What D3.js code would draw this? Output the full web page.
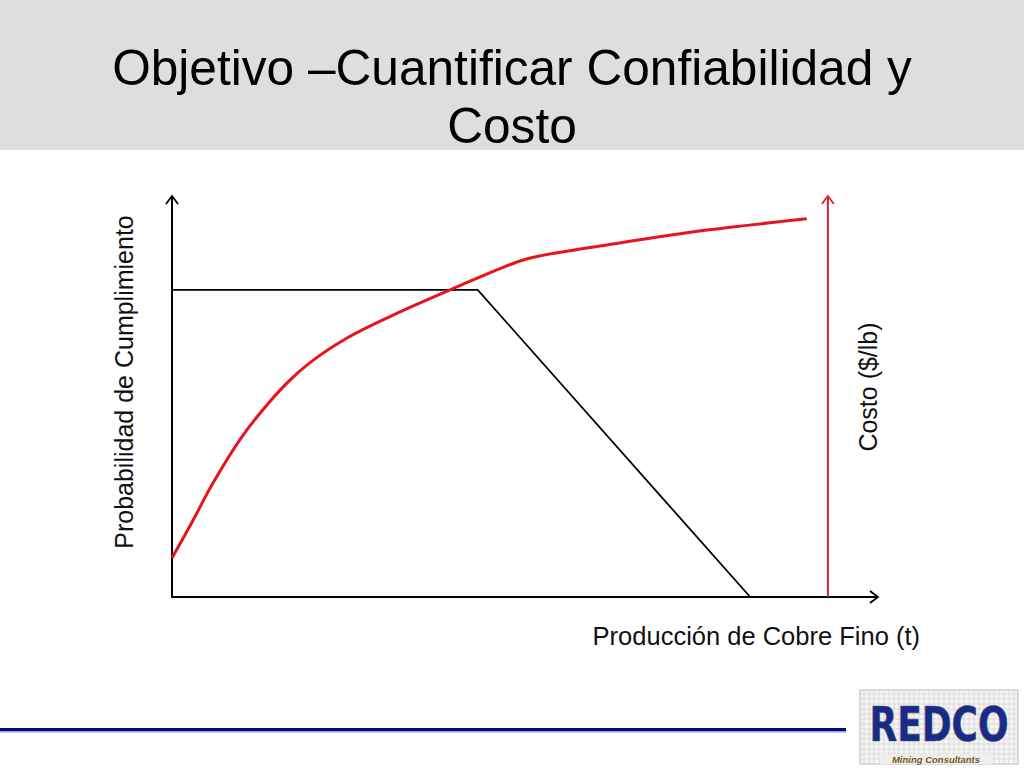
<!DOCTYPE html>
<html><head><meta charset="utf-8">
<script src="https://cdn.jsdelivr.net/npm/d3@7"></script>
<style>html,body{margin:0;padding:0;background:#fff;}svg{display:block;}</style>
</head><body>
<svg id="c" width="1024" height="768"></svg>
<script>
// Data (arbitrary units 0..100)
const titleLines = ["Objetivo \u2013Cuantificar Confiabilidad y", "Costo"];
const xLabel = "Producci\u00f3n de Cobre Fino (t)";
const yLabel = "Probabilidad de Cumplimiento";
const y2Label = "Costo ($/lb)";
const probX = [0, 43.3, 81.9];
const probY = [76.6, 76.6, 0];
const costX = [0, 3.0, 5.8, 9.6, 12.5, 16.3, 19.5, 24.8, 31.3, 39.4, 49.3, 52.5, 61.6, 75.8, 89.9];
const costY = [9.7, 19.2, 28.4, 39.2, 45.9, 53.4, 58.4, 64.6, 70.3, 76.6, 83.8, 85.2, 87.8, 91.5, 94.3];
const costAxisX = 92.9;

const svg = d3.select("#c");
const FONT = "'Liberation Sans', Arial, sans-serif";

// title band
svg.append("rect").attr("x",0).attr("y",0).attr("width",1024).attr("height",150).attr("fill","#dedede");
const t1 = svg.append("text").attr("x",512).attr("y",85).attr("text-anchor","middle")
  .attr("font-family",FONT).attr("font-size",48).attr("fill","#000").text(titleLines[0]);
let w = t1.node().getComputedTextLength();
const fs = 48*800/w;
t1.attr("font-size",fs);
svg.append("text").attr("x",512).attr("y",143).attr("text-anchor","middle")
  .attr("font-family",FONT).attr("font-size",fs).attr("fill","#000").text(titleLines[1]);

// scales
const x = d3.scaleLinear().domain([0,100]).range([172,878]);
const y = d3.scaleLinear().domain([0,100]).range([597,196]);

// arrow markers
const defs = svg.append("defs");
function marker(id,color){
  defs.append("marker").attr("id",id).attr("viewBox","-10 -8 12 16").attr("refX",0).attr("refY",0)
    .attr("markerWidth",12).attr("markerHeight",16).attr("markerUnits","userSpaceOnUse").attr("orient","auto")
    .append("path").attr("d","M-8,-6 L0,0 L-8,6").attr("fill","none").attr("stroke",color).attr("stroke-width",1.8);
}
marker("arrB","#000"); marker("arrR","#e0202a");

// axes
svg.append("line").attr("x1",x(0)).attr("y1",y(0)).attr("x2",x(0)).attr("y2",y(100))
  .attr("stroke","#000").attr("stroke-width",2).attr("marker-end","url(#arrB)");
svg.append("line").attr("x1",x(0)-1).attr("y1",y(0)).attr("x2",x(100)).attr("y2",y(0))
  .attr("stroke","#000").attr("stroke-width",2).attr("marker-end","url(#arrB)");
svg.append("line").attr("x1",x(costAxisX)).attr("y1",y(0)).attr("x2",x(costAxisX)).attr("y2",y(100))
  .attr("stroke","#d8202a").attr("stroke-width",2).attr("marker-end","url(#arrR)");

// probability line
const prob = probX.map((d,i)=>[d,probY[i]]);
svg.append("path").datum(prob).attr("fill","none").attr("stroke","#000").attr("stroke-width",1.8)
  .attr("d", d3.line().x(d=>x(d[0])).y(d=>y(d[1])));

// cost curve
const cost = costX.map((d,i)=>[d,costY[i]]);
svg.append("path").datum(cost).attr("fill","none").attr("stroke","#e8141c").attr("stroke-width",3)
  .attr("d", d3.line().curve(d3.curveCatmullRom.alpha(0.5)).x(d=>x(d[0])).y(d=>y(d[1])));

// axis labels
svg.append("text").attr("x",920).attr("y",645).attr("text-anchor","end")
  .attr("font-family",FONT).attr("font-size",25.5).attr("fill","#111").text(xLabel);
svg.append("text").attr("transform","translate(133,382) rotate(-90)").attr("text-anchor","middle")
  .attr("font-family",FONT).attr("font-size",25).attr("fill","#111").text(yLabel);
svg.append("text").attr("transform","translate(877,387) rotate(-90)").attr("text-anchor","middle")
  .attr("font-family",FONT).attr("font-size",25).attr("fill","#111").text(y2Label);

// bottom rule
svg.append("rect").attr("x",0).attr("y",728.5).attr("width",846).attr("height",4).attr("fill","#8fa0e0");
svg.append("rect").attr("x",0).attr("y",728).attr("width",846).attr("height",3).attr("fill","#0a0a80");

// logo
const lg = svg.append("g").attr("transform","translate(860,690)");
lg.append("rect").attr("width",158).attr("height",74).attr("fill","#f4f4f4").attr("stroke","#bbb");
for(let i=4;i<158;i+=5) lg.append("line").attr("x1",i).attr("x2",i).attr("y1",0).attr("y2",74).attr("stroke","#cfcfcf").attr("stroke-width",0.6);
for(let j=4;j<74;j+=5) lg.append("line").attr("x1",0).attr("x2",158).attr("y1",j).attr("y2",j).attr("stroke","#cfcfcf").attr("stroke-width",0.6);
lg.append("text").attr("transform","translate(79,51) scale(1,1.2)").attr("text-anchor","middle")
  .attr("font-family","'DejaVu Sans Condensed','Liberation Sans Narrow',sans-serif")
  .attr("font-weight","bold").attr("font-size",40).attr("fill","#1a2a8a").attr("stroke","#555").attr("stroke-width",0.5)
  .text("REDCO");
lg.append("rect").attr("x",20).attr("y",64).attr("width",112).attr("height",10).attr("fill","#eee");
lg.append("text").attr("x",76).attr("y",73).attr("text-anchor","middle").attr("font-family",FONT)
  .attr("font-weight","bold").attr("font-style","italic").attr("font-size",9.5).attr("fill","#7a5a18").text("Mining Consultants");
</script>
</body></html>
